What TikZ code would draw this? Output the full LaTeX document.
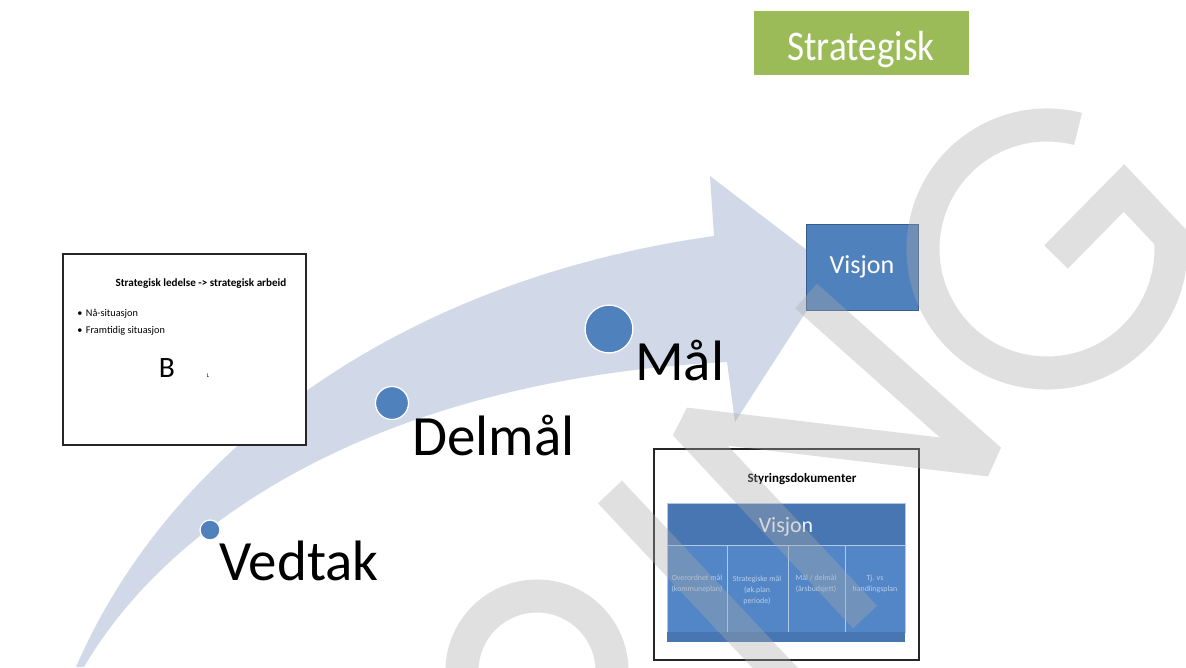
\documentclass[tikz,border=0pt]{standalone}
\usepackage{fontspec}
\setmainfont{Carlito}
\usetikzlibrary{fit}
\definecolor{arrowc}{RGB}{209,217,232}
\definecolor{blueA}{RGB}{79,129,189}
\definecolor{blueB}{RGB}{56,93,138}
\definecolor{greenA}{RGB}{155,187,89}
\definecolor{hdr}{RGB}{72,118,178}
\definecolor{colfill}{RGB}{82,134,198}
\definecolor{wm}{RGB}{170,170,170}
\definecolor{coltext}{RGB}{186,205,232}
\begin{document}
\begin{tikzpicture}[x=0.025cm,y=-0.025cm,
  dot/.style={circle, fill=blueA, draw=white, line width=0.9pt, inner sep=0pt, minimum size=#1},
  lbl/.style={anchor=base west, inner sep=0pt, font=\fontsize{40.5}{48}\selectfont},
  slide/.style={draw=black!85, line width=1.4pt, fill=white, inner sep=0pt},
  wmark/.style={draw=wm, draw opacity=0.36, line width=23.5pt},
  colbox/.style={fill=colfill, draw=white!55!colfill, line width=0.5pt, inner sep=0pt},
  coltxt/.style={text=coltext, font=\fontsize{5.6}{7.8}\selectfont, align=center, inner sep=0pt},
]
\useasboundingbox (0,0) rectangle (1186,667);
\clip (0,0) rectangle (1186,667);
\fill[white] (0,0) rectangle (1186,667);

% big curved arrow
\fill[arrowc] (76,667) .. controls (170,450) and (400,280) .. (714,236)
  -- (710,176) -- (833,270) -- (735,422) -- (727,362)
  .. controls (380,380) and (170,520) .. (84,667) -- cycle;

% milestones
\node[dot=14.2pt] (d1) at (210,530) {};
\node[dot=23.5pt] (d2) at (392,403) {};
\node[dot=34pt] (d3) at (609,329) {};
\node[lbl] (l1) at (219,580) {Vedtak};
\node[lbl] (l2) at (412,455) {Delmål};
\node[lbl] (l3) at (635,380) {Mål};

% green title box
\node[fill=greenA, fit={(754,11)(969,75)}, inner sep=0pt] (green) {};
\node[text=white, anchor=base, inner sep=0pt] (greentxt) at (861,60)
  {\scalebox{0.88}[1]{\fontsize{30}{32}\selectfont Strategisk}};

% Visjon box
\node[fill=blueA, draw=blueB, line width=0.7pt, fit={(806,224)(918,310)}, inner sep=0pt] (vis) {};
\node[text=white, anchor=base, inner sep=0pt, font=\fontsize{18.5}{20}\selectfont] (vistxt) at (862,273) {Visjon};

% left slide
\node[slide, fit={(63,254)(306,445)}] (slideA) {};
\node[anchor=base, inner sep=0pt, font=\bfseries\fontsize{7.9}{9}\selectfont] (titleA) at (201,286) {Strategisk ledelse -> strategisk arbeid};
\node[anchor=base west, inner sep=0pt, font=\fontsize{7.3}{8}\selectfont] (bA1) at (77,316) {\textbullet\hspace{2.5pt}Nå-situasjon};
\node[anchor=base west, inner sep=0pt, font=\fontsize{7.3}{8}\selectfont] (bA2) at (77,333) {\textbullet\hspace{2.5pt}Framtidig situasjon};
\node[anchor=base, inner sep=0pt, font=\fontsize{21}{24}\selectfont] (bigB) at (167,377) {B};
\node[anchor=base, inner sep=0pt, font=\fontsize{4}{5}\selectfont] (smallL) at (208,377) {L};

% bottom slide
\node[slide, fit={(654,449)(919,660)}] (slideB) {};
\node[anchor=base, inner sep=0pt, font=\bfseries\fontsize{9.2}{10}\selectfont] (titleB) at (802,482) {Styringsdokumenter};
\node[fill=hdr, draw=white!55!colfill, line width=0.5pt, fit={(667,503)(905,545)}, inner sep=0pt] (hdr) {};
\node[text=white!92!hdr, anchor=base, inner sep=0pt, font=\fontsize{15.6}{17}\selectfont] (hdrtxt) at (786,532) {Visjon};
\node[colbox, fit={(667,545)(727,632)}] (c1) {};
\node[colbox, fit={(727,545)(788,632)}] (c2) {};
\node[colbox, fit={(788,545)(845,632)}] (c3) {};
\node[colbox, fit={(845,545)(905,632)}] (c4) {};
\node[fill=hdr, fit={(667,632)(905,642)}, inner sep=0pt] (foot) {};
\node[coltxt] (t1) at (697,584) {Overordnet mål\\(kommuneplan)};
\node[coltxt] (t2) at (757,590) {Strategiske mål\\(øk.plan\\periode)};
\node[coltxt] (t3) at (816,584) {Mål / delmål\\(årsbudsjett)};
\node[coltxt] (t4) at (875,584) {Tj. vs\\handlingsplan};

% watermark
\draw[wmark] (537,671) ++(180:75) arc[start angle=180, end angle=370, radius=75];
\draw[wmark] (610,492) -- (810,705);
\draw[wmark, line join=bevel] (865,617) -- (685,424) -- (990,460) -- (806,296);
\draw[wmark, line join=miter] (1047,249) ++(284.5:124) arc[start angle=284.5, end angle=-5.5, radius=124]
  -- (1124,188) -- (1056,257);
\end{tikzpicture}
\end{document}
